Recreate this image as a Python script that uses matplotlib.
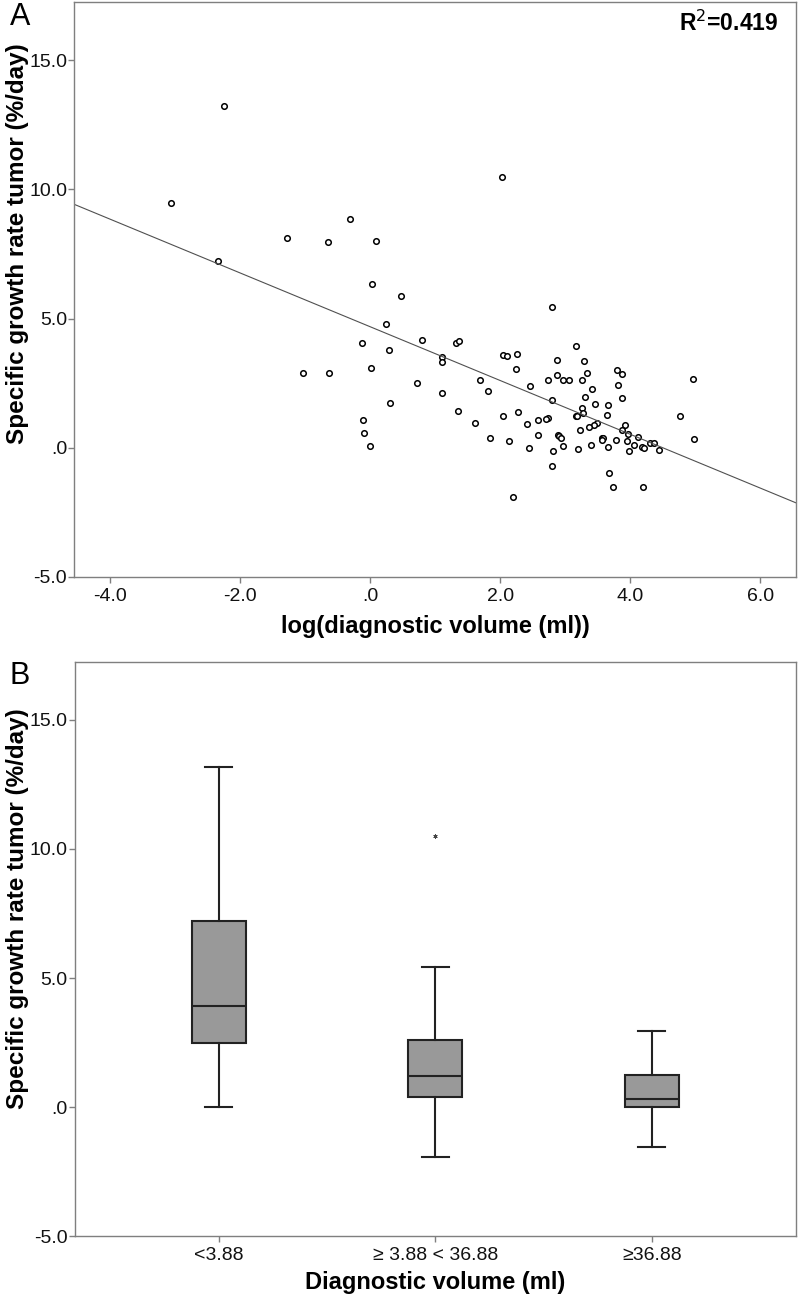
import numpy as np
import matplotlib.pyplot as plt

# ---- panel A data: log(diagnostic volume) vs specific growth rate ----
log_volume = [
    -2.25, -3.06, -2.34, -1.28, -0.65, -0.32, 0.09, 0.03, 0.47,
    2.02,
    0.24, 0.80, -0.13, 0.29, 0.01, -1.03, -0.64, 0.72, 0.30, -0.11, -0.10, 0.00,
    2.79, 1.32, 1.36, 3.16, 1.10, 1.11, 2.04, 2.10, 2.25, 2.24, 2.87, 3.29,
    2.87, 3.33, 3.79, 3.87, 4.97, 1.69, 2.74, 2.97, 3.06, 3.25, 2.45, 3.81,
    1.10, 1.81, 3.41, 3.31, 3.88, 2.79, 3.46, 3.66, 3.26, 3.27, 1.35, 2.27,
    3.17, 3.18, 2.04, 3.64, 4.76, 2.74, 2.71, 2.58, 1.61, 2.41, 3.49, 3.44,
    3.37, 3.92, 3.88, 3.23, 3.96, 2.89, 2.58, 2.90, 2.94, 4.12, 3.57, 3.58,
    3.57, 1.84, 2.13, 3.78, 3.95, 4.98, 4.30, 4.37, 4.05, 4.18, 4.21, 2.97,
    3.40, 3.66, 2.44, 3.19, 4.44, 2.81, 3.98, 2.79, 3.67, 3.73, 4.20, 2.20,
]
growth_rate = [
    13.22, 9.48, 7.21, 8.13, 7.95, 8.86, 8.01, 6.32, 5.89,
    10.48,
    4.78, 4.16, 4.06, 3.79, 3.09, 2.91, 2.89, 2.51, 1.73, 1.08, 0.57, 0.05,
    5.45, 4.06, 4.12, 3.94, 3.52, 3.30, 3.58, 3.56, 3.62, 3.03, 3.40, 3.35,
    2.82, 2.90, 2.99, 2.84, 2.65, 2.62, 2.63, 2.63, 2.64, 2.64, 2.38, 2.42,
    2.13, 2.19, 2.29, 1.98, 1.92, 1.84, 1.70, 1.65, 1.55, 1.35, 1.43, 1.39,
    1.21, 1.24, 1.21, 1.25, 1.21, 1.17, 1.12, 1.06, 0.95, 0.91, 0.94, 0.88,
    0.82, 0.89, 0.68, 0.68, 0.54, 0.51, 0.49, 0.44, 0.39, 0.42, 0.39, 0.37,
    0.30, 0.36, 0.28, 0.31, 0.27, 0.32, 0.17, 0.17, 0.09, 0.03, 0.00, 0.05,
    0.12, 0.02, 0.00, -0.04, -0.10, -0.14, -0.14, -0.70, -0.99, -1.51, -1.51, -1.90,
]
fit_intercept = 4.68
fit_slope = -1.04
r_squared = "0.419"

# ---- panel B data: box plot summary per volume group ----
group_labels = ["<3.88", "\u2265 3.88 < 36.88", "\u226536.88"]
box_whislo = [0.01, -1.92, -1.55]
box_q1 = [2.50, 0.41, -0.01]
box_median = [3.90, 1.21, 0.30]
box_q3 = [7.19, 2.62, 1.24]
box_whishi = [13.18, 5.42, 2.96]
box_fliers = [[], [10.48], []]

yticks = [-5.0, 0.0, 5.0, 10.0, 15.0]
ytick_labels = ["-5.0", ".0", "5.0", "10.0", "15.0"]
xticks_a = [-4.0, -2.0, 0.0, 2.0, 4.0, 6.0]
xtick_labels_a = ["-4.0", "-2.0", ".0", "2.0", "4.0", "6.0"]

plt.rcParams['font.family'] = ['Liberation Sans', 'DejaVu Sans']

fig = plt.figure(figsize=(7.99, 12.98), dpi=100)
ax1 = fig.add_axes([0.0926, 0.5555, 0.9036, 0.443])
ax2 = fig.add_axes([0.0935, 0.0475, 0.9027, 0.4428])

ylims = (-5.0, 17.25)
spine_col = '#7f7f7f'


def style_axes(ax):
    for s in ax.spines.values():
        s.set_color(spine_col)
        s.set_linewidth(1.0)
    ax.set_ylim(*ylims)
    ax.set_yticks(yticks)
    ax.set_yticklabels(ytick_labels, fontsize=14)
    ax.tick_params(axis='both', direction='out', length=4, width=1.0,
                   color=spine_col, pad=1, labelcolor='#111111')
    ax.tick_params(axis='x', pad=4)


# panel A
ax1.plot(log_volume, growth_rate, 'o', ms=4, mfc='white', mec='black', mew=1.1, ls='none')
xl = np.array([-4.56, 6.55])
ax1.plot(xl, fit_intercept + fit_slope * xl, color='#505050', lw=0.8)
ax1.set_xlim(-4.56, 6.55)
style_axes(ax1)
ax1.set_xticks(xticks_a)
ax1.set_xticklabels(xtick_labels_a, fontsize=14)
ax1.set_xlabel('log(diagnostic volume (ml))', fontsize=17, fontweight='bold', labelpad=7)
ax1.set_ylabel('Specific growth rate tumor (%/day)', fontsize=17.5, fontweight='bold')
ax1.yaxis.set_label_coords(-0.063, 0.58)
ax1.text(0.976, 0.985, 'R$^2$=' + r_squared, transform=ax1.transAxes, ha='right', va='top',
         fontsize=16.5, fontweight='bold')
fig.text(0.012, 0.9985, 'A', fontsize=22, va='top', ha='left')

# panel B
stats = []
for i in range(len(group_labels)):
    stats.append(dict(label=group_labels[i], whislo=box_whislo[i], q1=box_q1[i],
                      med=box_median[i], q3=box_q3[i], whishi=box_whishi[i],
                      fliers=box_fliers[i]))
ax2.bxp(stats, positions=[1, 2, 3], widths=0.25, patch_artist=True,
        boxprops=dict(facecolor='#999999', edgecolor='#222222', linewidth=1.5),
        medianprops=dict(color='#222222', linewidth=1.5),
        whiskerprops=dict(color='#222222', linewidth=1.5),
        capprops=dict(color='#222222', linewidth=1.5), capwidths=0.125,
        flierprops=dict(marker=(6, 2, 0), markersize=3, markeredgecolor='#444444',
                        markeredgewidth=0.6, linestyle='none'))
ax2.set_xlim(1 / 3, 11 / 3)
style_axes(ax2)
ax2.set_xticks([1, 2, 3])
ax2.set_xticklabels(group_labels, fontsize=14)
ax2.set_xlabel('Diagnostic volume (ml)', fontsize=17, fontweight='bold', labelpad=5)
ax2.set_ylabel('Specific growth rate tumor (%/day)', fontsize=17.5, fontweight='bold')
ax2.yaxis.set_label_coords(-0.063, 0.57)
fig.text(0.012, 0.4905, 'B', fontsize=22, va='top', ha='left')

fig.savefig('out.png', dpi=100)
